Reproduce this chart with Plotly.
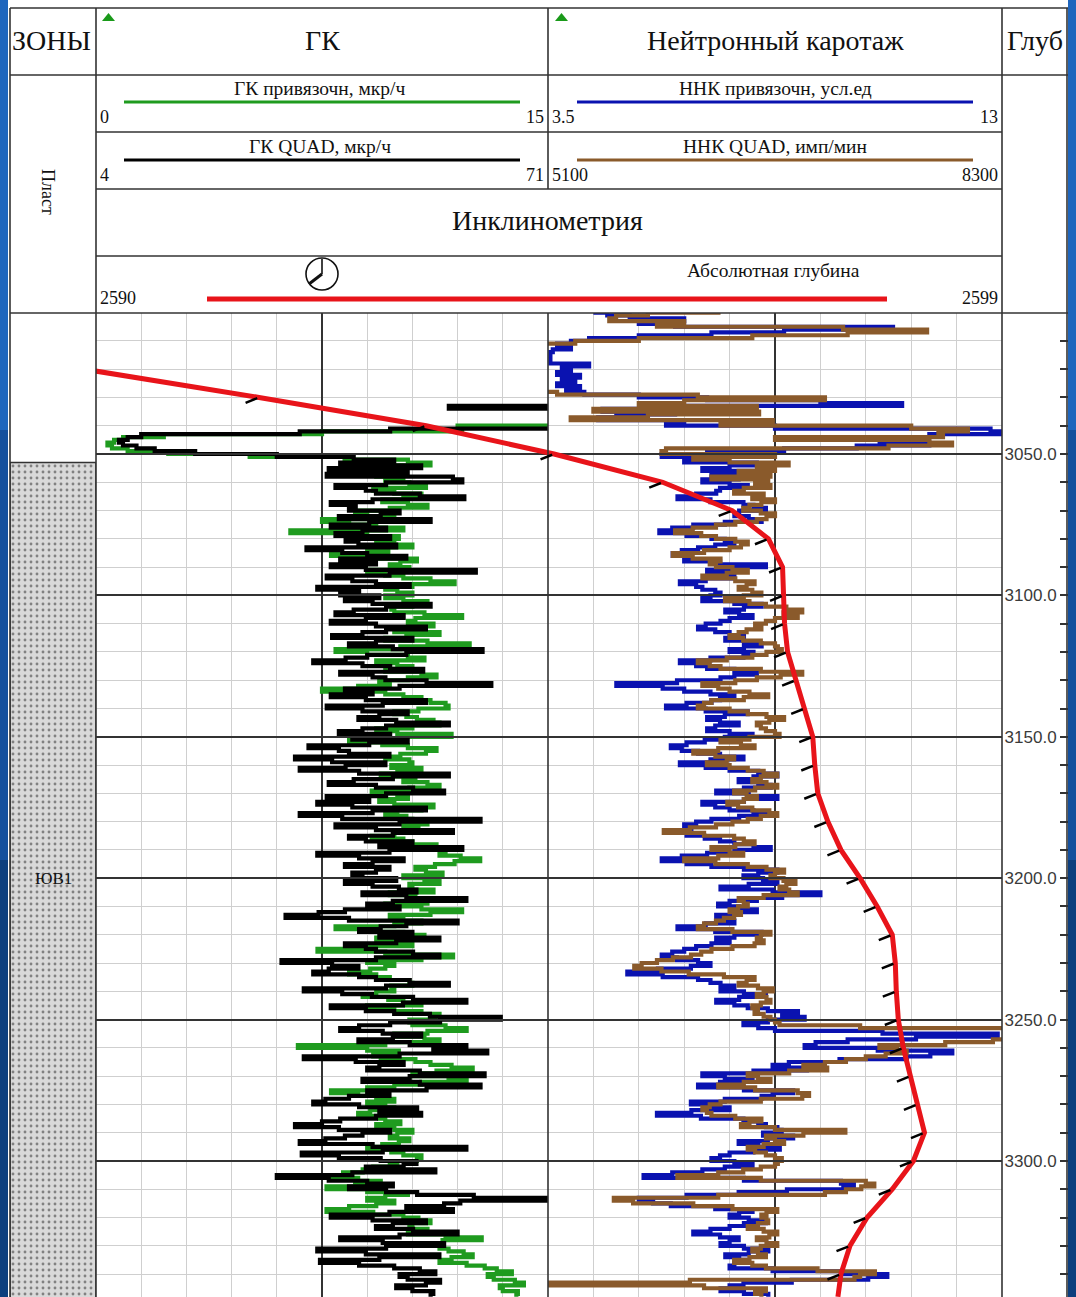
import numpy as np
import plotly.graph_objects as go

W, H = 1076, 1297

# ---------------------------------------------------------------- data
# measured depth, m (1 m sampling)
depth = np.arange(3000, 3349, 1)

# ГК привязочн, мкр/ч (scale 0..15); one row per 10 m
gk_ref = [
    16.0, 16.0, 16.0, 16.0, 16.0, 16.0, 16.0, 16.0, 16.0, 16.0,
    16.0, 16.0, 16.0, 16.0, 16.0, 16.0, 16.0, 16.0, 16.0, 16.0,
    16.0, 16.0, 16.0, 16.0, 16.0, 16.0, 16.0, 16.0, 16.0, 16.0,
    16.0, 16.0, 16.0, 16.0, 16.0, 16.0, 16.0, 16.0, 16.0, 16.0,
    16.0, 12.0, 12.15, 7.5, 2.25, 0.9, 0.6, 0.38, 0.53, 1.05,
    2.4, 5.1, 8.25, 10.35, 11.1, 9.3, 8.85, 9.9, 9.3, 10.2,
    9.6, 10.4, 10.95, 9.2, 9.9, 10.8, 10.2, 9.5, 10.35, 11.0,
    9.75, 8.6, 9.0, 9.9, 7.5, 8.4, 9.3, 10.2, 6.45, 9.0,
    10.05, 9.3, 9.9, 10.5, 9.0, 9.7, 7.8, 8.9, 10.65, 10.1,
    9.75, 10.4, 9.0, 9.6, 10.2, 11.1, 11.9, 10.5, 9.6, 10.0,
    10.5, 9.6, 10.2, 11.0, 10.5, 9.8, 9.9, 10.9, 12.15, 10.6,
    10.35, 11.2, 10.8, 9.9, 11.4, 10.3, 9.6, 11.0, 12.4, 10.1,
    7.95, 9.0, 10.35, 10.9, 9.3, 10.0, 10.5, 9.6, 10.8, 11.3,
    10.35, 9.4, 9.75, 8.7, 7.5, 9.6, 10.2, 10.8, 11.1, 11.6,
    11.7, 10.7, 9.9, 10.3, 10.65, 11.2, 11.4, 10.5, 9.3, 10.0,
    11.8, 10.2, 8.4, 9.5, 10.35, 11.3, 10.95, 10.1, 9.6, 10.4,
    10.5, 9.8, 10.8, 10.0, 9.45, 10.6, 10.2, 11.0, 11.4, 10.4,
    9.15, 10.0, 10.35, 9.4, 9.9, 11.2, 10.8, 10.0, 9.6, 10.3,
    10.5, 11.0, 10.2, 10.7, 11.1, 9.9, 9.15, 10.2, 10.5, 11.3,
    10.95, 11.6, 11.4, 12.1, 12.75, 11.9, 11.25, 10.6, 10.95, 11.5,
    10.2, 10.9, 11.4, 10.4, 10.5, 11.2, 9.75, 10.6, 11.85, 11.0,
    9.6, 10.8, 12.15, 11.1, 9.75, 10.2, 10.8, 9.9, 7.95, 9.4,
    10.2, 10.9, 9.3, 9.9, 10.5, 8.9, 7.35, 9.6, 11.85, 10.8,
    9.0, 9.9, 9.6, 9.1, 8.4, 9.3, 9.75, 10.4, 10.5, 9.8,
    9.9, 9.3, 8.85, 9.7, 10.2, 10.8, 9.0, 9.9, 10.8, 11.4,
    11.25, 10.4, 10.5, 11.6, 12.3, 11.0, 9.9, 10.9, 11.4, 9.6,
    6.7, 9.0, 10.05, 9.2, 9.45, 10.6, 11.1, 11.8, 12.5, 11.3,
    10.5, 11.7, 12.3, 10.8, 9.9, 9.0, 7.8, 8.7, 9.3, 9.9,
    9.0, 9.6, 9.9, 9.1, 8.7, 9.4, 9.6, 10.1, 9.3, 9.9,
    10.5, 10.0, 9.75, 10.4, 10.05, 9.5, 9.0, 9.8, 10.2, 10.8,
    10.65, 10.0, 9.75, 9.2, 8.85, 8.2, 7.5, 8.7, 9.45, 8.6,
    7.65, 9.0, 10.35, 9.6, 9.0, 9.9, 9.3, 8.4, 7.65, 9.2,
    10.2, 10.7, 11.1, 10.4, 10.5, 11.0, 10.35, 11.6, 12.8, 11.5,
    10.95, 11.4, 11.7, 12.2, 12.5, 11.8, 11.4, 12.3, 12.9, 13.3,
    13.8, 13.0, 13.2, 13.9, 14.2, 13.4, 13.5, 14.0, 13.95,
]

# ГК QUAD, мкр/ч (scale 4..71)
gk_quad = [
    75, 75, 75, 75, 75, 75, 75, 75, 75, 75,
    75, 75, 75, 75, 75, 75, 75, 75, 75, 75,
    75, 75, 75, 75, 75, 75, 75, 75, 75, 75,
    75, 75, 75, 75, 56.3, 75, 75, 75, 75, 75,
    75, 75, 47.6, 34.2, 10.7, 8.7, 7.4, 8.0, 10.0, 12.7,
    18.7, 30.8, 42.2, 48.2, 40.2, 52.2, 38.5, 50.2, 38.2, 56.9,
    58.3, 47.0, 39.5, 44.0, 45.5, 52.0, 58.6, 45.0, 38.8, 42.5,
    41.5, 49.0, 46.2, 40.0, 53.6, 44.5, 38.8, 47.0, 43.5, 39.5,
    47.6, 41.0, 42.9, 48.5, 35.2, 40.5, 44.2, 50.0, 40.2, 45.5,
    38.8, 44.0, 60.3, 47.5, 38.2, 42.0, 45.5, 50.5, 36.8, 43.0,
    40.2, 46.0, 40.9, 45.0, 53.6, 47.0, 42.2, 39.5, 49.6, 44.0,
    38.8, 45.5, 52.9, 47.0, 43.5, 39.0, 50.9, 45.5, 41.5, 48.0,
    61.3, 50.0, 44.2, 41.0, 36.2, 43.5, 47.6, 52.5, 40.2, 45.0,
    46.9, 53.0, 62.6, 49.0, 40.9, 45.0, 38.8, 44.0, 52.9, 46.5,
    38.2, 43.5, 50.2, 46.0, 42.9, 48.5, 56.3, 47.0, 43.5, 40.0,
    47.6, 42.0, 50.2, 44.5, 35.5, 40.0, 41.5, 47.5, 33.5, 39.0,
    46.9, 41.0, 34.2, 43.0, 56.3, 48.0, 42.2, 38.5, 45.5, 51.0,
    55.6, 47.0, 38.2, 44.5, 36.8, 42.0, 52.9, 45.0, 34.2, 40.5,
    61.0, 49.0, 39.5, 45.5, 56.9, 48.0, 41.5, 44.0, 50.9, 46.0,
    58.3, 47.5, 36.8, 43.0, 49.6, 45.0, 40.9, 47.5, 45.5, 42.0,
    43.5, 48.5, 40.9, 45.0, 48.9, 51.5, 43.5, 50.0, 58.9, 48.0,
    44.2, 49.0, 40.9, 37.0, 32.1, 41.5, 57.6, 50.0, 46.2, 43.0,
    50.9, 46.0, 54.9, 48.5, 40.9, 44.0, 45.5, 51.0, 54.9, 45.5,
    31.5, 39.0, 42.9, 38.5, 36.2, 43.0, 45.5, 50.5, 56.3, 47.0,
    34.8, 40.5, 44.9, 51.0, 58.9, 49.5, 38.8, 44.0, 48.2, 53.5,
    64.0, 55.0, 47.6, 43.0, 40.2, 46.5, 52.2, 48.0, 42.9, 50.5,
    58.9, 54.0, 62.0, 49.0, 34.8, 42.5, 49.6, 46.0, 44.2, 52.0,
    61.6, 50.5, 43.5, 52.0, 61.0, 53.0, 44.2, 47.5, 41.5, 38.0,
    36.2, 43.0, 51.6, 46.0, 52.2, 45.5, 40.2, 37.5, 33.5, 40.0,
    47.6, 43.5, 40.9, 38.0, 34.2, 45.0, 58.9, 46.5, 34.5, 40.0,
    46.2, 51.5, 49.6, 44.0, 54.3, 42.0, 30.8, 38.5, 44.2, 48.0,
    41.5, 47.0, 51.6, 60.0, 74.0, 58.0, 55.6, 50.0, 56.9, 47.5,
    38.8, 45.0, 52.9, 48.0, 45.5, 51.0, 57.6, 49.0, 40.2, 46.5,
    55.6, 47.0, 36.8, 44.0, 54.9, 46.0, 37.2, 43.0, 48.2, 52.0,
    54.3, 49.0, 50.2, 55.0, 52.9, 48.5, 50.9, 54.0, 53.6,
]

# ННК привязочн, усл.ед (scale 3.5..13)
nnk_ref = [
    4.45, 4.74, 5.21, 6.35, 5.40, 6.16, 10.72, 8.44, 6.92, 5.40,
    4.36, 3.98, 3.69, 3.98, 3.60, 3.55, 3.55, 3.55, 3.55, 4.36,
    3.79, 3.98, 3.69, 4.17, 3.79, 4.07, 3.69, 4.17, 3.88, 4.26,
    5.40, 6.83, 9.20, 10.91, 5.88, 4.64, 6.16, 4.93, 4.55, 6.35,
    5.97, 8.25, 12.76, 13.38, 11.48, 9.49, 10.44, 11.48, 9.96, 8.44,
    6.83, 5.88, 7.11, 6.35, 7.87, 7.30, 6.73, 7.78, 6.92, 7.49,
    6.73, 7.30, 7.68, 7.10, 7.02, 6.60, 6.21, 6.90, 7.59, 7.80,
    8.06, 7.50, 7.40, 7.70, 7.97, 7.20, 6.54, 6.10, 5.83, 6.40,
    6.92, 7.20, 7.40, 7.00, 6.64, 6.30, 6.11, 6.50, 6.35, 7.10,
    8.06, 7.40, 6.83, 7.20, 7.40, 6.80, 6.26, 6.60, 6.73, 7.00,
    7.11, 6.90, 6.73, 7.40, 7.97, 7.60, 7.21, 7.50, 7.78, 7.30,
    7.11, 6.80, 6.64, 7.00, 7.30, 7.60, 7.21, 7.60, 7.97, 7.60,
    7.30, 7.80, 7.59, 6.90, 6.26, 6.60, 6.83, 7.40, 7.87, 7.40,
    7.11, 6.20, 4.93, 5.90, 6.35, 6.90, 7.40, 7.10, 6.92, 6.40,
    5.97, 6.80, 7.68, 7.20, 6.83, 7.10, 7.49, 7.00, 6.83, 7.30,
    7.78, 7.20, 6.78, 6.40, 6.07, 6.30, 6.64, 7.10, 7.59, 6.90,
    6.26, 6.80, 7.30, 7.90, 8.30, 7.80, 7.49, 7.90, 8.16, 7.60,
    7.02, 7.70, 8.30, 7.60, 6.73, 7.00, 7.30, 7.80, 8.16, 7.50,
    6.92, 6.60, 6.35, 6.50, 6.16, 6.40, 6.78, 7.10, 7.40, 7.80,
    8.16, 7.40, 6.83, 6.30, 5.88, 6.40, 6.92, 7.60, 8.30, 7.90,
    7.59, 8.00, 8.30, 7.70, 7.11, 8.20, 9.20, 8.40, 7.87, 7.30,
    7.06, 7.50, 7.87, 7.40, 7.02, 7.20, 7.40, 6.80, 6.21, 7.00,
    7.97, 7.40, 7.02, 7.30, 6.92, 6.60, 6.35, 6.10, 5.88, 6.20,
    6.64, 6.90, 6.49, 5.80, 5.16, 5.90, 6.64, 6.90, 7.11, 7.40,
    7.11, 7.60, 8.06, 7.50, 7.02, 7.40, 7.68, 8.10, 8.73, 8.40,
    8.87, 8.10, 7.59, 7.90, 8.25, 10.50, 12.91, 11.20, 9.77, 9.10,
    8.87, 10.40, 11.96, 11.50, 11.01, 9.60, 8.54, 8.20, 8.92, 7.80,
    6.73, 7.20, 7.78, 7.10, 6.64, 7.60, 8.63, 8.20, 7.97, 7.20,
    6.49, 6.90, 7.30, 6.50, 5.78, 6.70, 7.59, 7.90, 8.06, 8.30,
    8.39, 8.00, 8.63, 8.10, 7.49, 7.90, 8.35, 7.80, 7.30, 7.10,
    6.92, 7.40, 7.78, 7.20, 6.73, 6.10, 5.50, 7.60, 9.63, 9.90,
    9.68, 8.50, 7.49, 6.40, 5.40, 5.70, 6.07, 7.00, 7.78, 7.50,
    7.30, 7.70, 8.06, 7.60, 7.30, 6.90, 6.54, 7.10, 7.49, 7.30,
    7.11, 7.60, 8.11, 7.70, 7.21, 7.50, 7.68, 7.40, 7.30, 8.20,
    9.63, 10.60, 10.20, 8.60, 7.59, 7.30, 7.11, 7.60, 8.11,
]

# ННК QUAD, имп/мин (scale 5100..8300)
nnk_quad = [
    6316, 5804, 5580, 5532, 6060, 5868, 7180, 7772, 7212, 6540,
    5740, 5292, 4940, 4780, 4780, 4780, 4780, 4780, 4780, 4780,
    4780, 4780, 4780, 4780, 4780, 4780, 4780, 4780, 4780, 5164,
    6156, 7052, 6060, 5740, 6572, 5420, 6588, 5804, 5260, 6684,
    6316, 7660, 8060, 7852, 7884, 6700, 7788, 7948, 7500, 5932,
    5900, 6700, 6124, 6380, 6796, 6572, 6700, 6444, 6668, 6252,
    6652, 6560, 6668, 6480, 6412, 6620, 6540, 6700, 6604, 6520,
    6476, 6600, 6700, 6640, 6572, 6420, 6284, 6120, 5996, 6180,
    6284, 6420, 6508, 6460, 6380, 6200, 5980, 6120, 6316, 6240,
    6284, 6400, 6508, 6360, 6188, 6420, 6556, 6500, 6444, 6540,
    6604, 6480, 6348, 6520, 6636, 6780, 6892, 6760, 6860, 6700,
    6636, 6560, 6604, 6500, 6444, 6380, 6476, 6600, 6700, 6720,
    6748, 6640, 6540, 6360, 6156, 6240, 6316, 6600, 6892, 6740,
    6572, 6420, 6188, 6300, 6380, 6520, 6652, 6480, 6252, 6200,
    6156, 6380, 6508, 6640, 6764, 6660, 6572, 6600, 6636, 6700,
    6732, 6520, 6316, 6460, 6556, 6300, 6124, 6280, 6412, 6360,
    6220, 6380, 6508, 6620, 6716, 6600, 6540, 6640, 6716, 6560,
    6412, 6500, 6572, 6480, 6364, 6440, 6540, 6660, 6716, 6600,
    6508, 6400, 6284, 6100, 5916, 6200, 6412, 6480, 6556, 6420,
    6252, 6380, 6476, 6300, 6060, 6280, 6508, 6640, 6764, 6700,
    6668, 6760, 6844, 6780, 6732, 6800, 6860, 6620, 6444, 6480,
    6508, 6440, 6380, 6460, 6412, 6340, 6284, 6200, 6156, 6400,
    6668, 6600, 6572, 6620, 6556, 6400, 6252, 6180, 6108, 5980,
    5868, 5760, 5708, 5900, 6092, 6340, 6556, 6500, 6444, 6580,
    6684, 6620, 6572, 6640, 6668, 6600, 6540, 6580, 6556, 6620,
    6668, 6700, 6732, 7300, 8460, 8460, 8460, 8400, 8236, 7900,
    7436, 7560, 7628, 7480, 7340, 7200, 7052, 6900, 7068, 6800,
    6508, 6580, 6668, 6480, 6300, 6560, 6860, 6940, 6892, 6600,
    6316, 6240, 6188, 6220, 6252, 6420, 6604, 6520, 6460, 6700,
    7196, 6900, 6636, 6700, 6764, 6620, 6508, 6560, 6636, 6700,
    6748, 6720, 6700, 6600, 6476, 6300, 6012, 6600, 7340, 7400,
    7308, 7200, 7052, 6300, 5564, 5700, 6124, 6400, 6716, 6640,
    6604, 6640, 6652, 6580, 6508, 6620, 6716, 6660, 6572, 6640,
    6716, 6600, 6540, 6580, 6636, 6520, 6412, 6540, 6636, 7000,
    7404, 7300, 7260, 6100, 4844, 6200, 6636, 6560, 6604,
]

# Инклинометрия: абсолютная глубина, m (scale 2590..2599)
incl_depth = [3020, 3030, 3040, 3050, 3060, 3070, 3080, 3090, 3100, 3110,
              3120, 3130, 3140, 3150, 3160, 3170, 3180, 3190, 3200, 3210,
              3220, 3230, 3240, 3250, 3260, 3270, 3280, 3290, 3300, 3310,
              3320, 3330, 3340, 3348]
incl_abs = [2589.88, 2591.62, 2593.28, 2594.55, 2595.63, 2596.32, 2596.68,
            2596.82, 2596.83, 2596.84, 2596.87, 2596.95, 2597.04, 2597.12,
            2597.14, 2597.17, 2597.27, 2597.40, 2597.59, 2597.76, 2597.91,
            2597.94, 2597.95, 2597.97, 2598.02, 2598.09, 2598.16, 2598.23,
            2598.12, 2597.91, 2597.66, 2597.49, 2597.40, 2597.37]

# Пласт
zone_names = ["ЮВ1"]
zone_top = [3053.0]
zone_base = [3350.0]

# track scales
gk_ref_scale = [0, 15]
gk_quad_scale = [4, 71]
nnk_ref_scale = [3.5, 13]
nnk_quad_scale = [5100, 8300]
incl_scale = [2590, 2599]
depth_view = [3348.1, 3000.14]

# ---------------------------------------------------------------- styling
SERIF = "Liberation Serif, Times New Roman, serif"
LINE = "#333333"
GRID = "#cfcfcf"
C_GREEN, C_BLACK, C_BLUE, C_BROWN, C_RED = "#1f9b1f", "#000000", "#0a12b0", "#8a5a2b", "#e8141a"
CURVE_W = 4.2


def X(px):
    return px / W


def Y(py):
    return 1 - py / H


def divisions(scale, n=10):
    """Inner grid positions of a linear track scale, centre excluded."""
    lo, hi = scale
    step = (hi - lo) / n
    return [lo + i * step for i in range(1, n) if i != n // 2]


track_top = Y(313)
minor_depths = [d for d in range(3010, 3350, 10) if d % 50]
major_depths = [d for d in range(3050, 3350, 50)]

fig = go.Figure()


def log_curve(values, xaxis, color):
    # stepped trace: each sample is drawn as a horizontal stroke at its depth
    return go.Scatter(x=values, y=depth, xaxis=xaxis, yaxis="y", mode="lines",
                      line=dict(color=color, width=CURVE_W, shape="hv", simplify=False),
                      hoverinfo="skip")


fig.add_trace(log_curve(gk_ref, "x", C_GREEN))
fig.add_trace(log_curve(gk_quad, "x2", C_BLACK))
fig.add_trace(log_curve(nnk_ref, "x3", C_BLUE))
fig.add_trace(log_curve(nnk_quad, "x4", C_BROWN))
fig.add_trace(go.Scatter(x=incl_abs, y=incl_depth, xaxis="x5", yaxis="y2", mode="lines",
                         line=dict(color=C_RED, width=5), hoverinfo="skip"))

for name, top, base in zip(zone_names, zone_top, zone_base):
    fig.add_trace(go.Scatter(
        x=[0, 1, 1, 0, 0], y=[top, top, base, base, top], xaxis="x6", yaxis="y3",
        mode="lines", fill="toself", line=dict(color=LINE, width=1.5),
        fillcolor="#d9d9d9",
        fillpattern=dict(shape=".", bgcolor="#d9d9d9", fgcolor="#2a2a2a", size=6, solidity=0.18),
        hoverinfo="skip"))

# carrier for the depth scale
fig.add_trace(go.Scatter(x=[None], y=[None], xaxis="x", yaxis="y4", mode="lines",
                         hoverinfo="skip"))

hidden = dict(showticklabels=False, ticks="", zeroline=False, showline=False)

fig.update_layout(
    width=W, height=H, margin=dict(l=0, r=0, t=0, b=0),
    paper_bgcolor="white", plot_bgcolor="rgba(0,0,0,0)", showlegend=False,
    # ГК track: green scale carries the light grid, black scale the centre line
    xaxis=dict(domain=[X(96), X(548)], range=gk_ref_scale, anchor="y",
               tickmode="array", tickvals=divisions(gk_ref_scale),
               showgrid=True, gridcolor=GRID, gridwidth=1, **hidden),
    xaxis2=dict(overlaying="x", anchor="y", range=gk_quad_scale, tickmode="array",
                tickvals=[sum(gk_quad_scale) / 2], showgrid=True, gridcolor=LINE,
                gridwidth=1.5, **hidden),
    # neutron track
    xaxis3=dict(domain=[X(548), X(1002)], range=nnk_ref_scale, anchor="y",
                tickmode="array", tickvals=divisions(nnk_ref_scale),
                showgrid=True, gridcolor=GRID, gridwidth=1, **hidden),
    xaxis4=dict(overlaying="x3", anchor="y", range=nnk_quad_scale, tickmode="array",
                tickvals=[sum(nnk_quad_scale) / 2], showgrid=True, gridcolor=LINE,
                gridwidth=1.5, **hidden),
    # inclinometry spans both tracks
    xaxis5=dict(domain=[X(96), X(1002)], range=incl_scale, anchor="y2",
                showgrid=False, **hidden),
    xaxis6=dict(domain=[X(10), X(96)], range=[0, 1], anchor="y3", visible=False),
    yaxis=dict(domain=[0, track_top], range=depth_view, anchor="x",
               tickmode="array", tickvals=minor_depths,
               showgrid=True, gridcolor=GRID, gridwidth=1, **hidden),
    yaxis2=dict(domain=[0, track_top], matches="y", anchor="x5",
                tickmode="array", tickvals=major_depths,
                showgrid=True, gridcolor=LINE, gridwidth=1.5, **hidden),
    yaxis3=dict(domain=[0, track_top], matches="y", anchor="x6", visible=False),
    yaxis4=dict(overlaying="y", anchor="free", position=X(1068), side="left",
                range=depth_view, tickmode="array", tickvals=major_depths,
                ticktext=[f"{d:.1f}" for d in major_depths],
                ticks="outside", ticklen=8, tickwidth=1.5,
                tickcolor=LINE, showgrid=False, zeroline=False, showline=False,
                minor=dict(tickmode="array", tickvals=minor_depths, ticks="outside",
                           ticklen=8, tickwidth=1.5, tickcolor=LINE, showgrid=False),
                tickfont=dict(family="Liberation Sans Narrow, Liberation Sans, sans-serif",
                              size=17, color="#3a3a3a")),
)

# ---------------------------------------------------------------- frame
shapes = []


def seg(x0, y0, x1, y1, color=LINE, width=1.6):
    shapes.append(dict(type="line", xref="paper", yref="paper",
                       x0=X(x0), y0=Y(y0), x1=X(x1), y1=Y(y1),
                       line=dict(color=color, width=width)))


# slide background strips
for y0, y1, col in [(0, 430, "#1f66bd"), (430, 860, "#15509d"), (860, 1297, "#0d3f7e")]:
    shapes.append(dict(type="rect", xref="paper", yref="paper", x0=X(0), x1=X(8),
                       y0=Y(y1), y1=Y(y0), fillcolor=col, line=dict(width=0), layer="below"))
    shapes.append(dict(type="rect", xref="paper", yref="paper", x0=X(1068), x1=X(1076),
                       y0=Y(y1), y1=Y(y0), fillcolor=col, line=dict(width=0), layer="below"))

seg(10, 8, 1068, 8)
seg(10, 8, 10, 1297)
seg(1067, 8, 1067, 1297)
seg(96, 8, 96, 1297)
seg(1002, 8, 1002, 1297)
seg(548, 8, 548, 189)
seg(548, 313, 548, 1297)
seg(10, 75, 1068, 75)
seg(96, 132, 1002, 132)
seg(96, 189, 1002, 189)
seg(96, 256, 1002, 256)
seg(10, 313, 1068, 313)

# curve keys in the header
seg(124, 102, 520, 102, C_GREEN, 3)
seg(124, 160, 520, 160, C_BLACK, 3)
seg(577, 102, 973, 102, C_BLUE, 3)
seg(577, 160, 973, 160, C_BROWN, 3)
seg(207, 299, 887, 299, C_RED, 5)

# track markers
for x0 in (102, 555):
    shapes.append(dict(type="path", xref="paper", yref="paper",
                       path=f"M {X(x0)} {Y(21)} L {X(x0 + 13)} {Y(21)} L {X(x0 + 6.5)} {Y(13)} Z",
                       fillcolor="#1a9a1a", line=dict(width=0)))

# clock symbol
shapes.append(dict(type="circle", xref="paper", yref="paper",
                   x0=X(306), x1=X(338), y0=Y(290), y1=Y(258),
                   line=dict(color="#111", width=1.6)))
seg(322, 274, 322, 259, "#111", 1.6)
seg(322, 274, 309, 284, "#111", 3)

fig.update_layout(shapes=shapes)

# ---------------------------------------------------------------- text
ann = []


def label(text, px, py, size, anchor="center", angle=0):
    ann.append(dict(text=text, x=X(px), y=Y(py), xref="paper", yref="paper",
                    xanchor=anchor, yanchor="middle", showarrow=False, textangle=angle,
                    font=dict(family=SERIF, size=size, color="#111")))


label("ЗОНЫ", 51, 41, 28)
label("ГК", 322, 41, 28)
label("Нейтронный каротаж", 775, 41, 28)
label("Глуб", 1035, 41, 28)
label("ГК привязочн, мкр/ч", 320, 89, 19.5)
label(str(gk_ref_scale[0]), 98, 117, 18, "left")
label(str(gk_ref_scale[1]), 546, 117, 18, "right")
label("ГК QUAD, мкр/ч", 320, 146, 19.5)
label(str(gk_quad_scale[0]), 98, 175, 18, "left")
label(str(gk_quad_scale[1]), 546, 175, 18, "right")
label("ННК привязочн, усл.ед", 775, 89, 19.5)
label(str(nnk_ref_scale[0]), 550, 117, 18, "left")
label(str(nnk_ref_scale[1]), 1000, 117, 18, "right")
label("ННК QUAD, имп/мин", 775, 146, 19.5)
label(str(nnk_quad_scale[0]), 550, 175, 18, "left")
label(str(nnk_quad_scale[1]), 1000, 175, 18, "right")
label("Инклинометрия", 547, 221, 28)
label("Абсолютная глубина", 773, 270, 19.5)
label(str(incl_scale[0]), 98, 298, 18, "left")
label(str(incl_scale[1]), 1000, 298, 18, "right")
label("Пласт", 48, 192, 18, angle=90)

for name, top, base in zip(zone_names, zone_top, zone_base):
    ann.append(dict(text=name, x=0.5, y=(top + base) / 2 - 1.5, xref="x6", yref="y3",
                    showarrow=False, font=dict(family=SERIF, size=17, color="#111")))

# survey station marks along the trajectory
for d, v in zip(incl_depth, incl_abs):
    if 3030 <= d <= 3340:
        ann.append(dict(text="", x=v, y=d, xref="x5", yref="y2", showarrow=True,
                        ax=-15, ay=6, arrowhead=0, arrowwidth=2.5, arrowcolor="#000",
                        standoff=2))

fig.update_layout(annotations=ann)

fig.write_html("out.html")
